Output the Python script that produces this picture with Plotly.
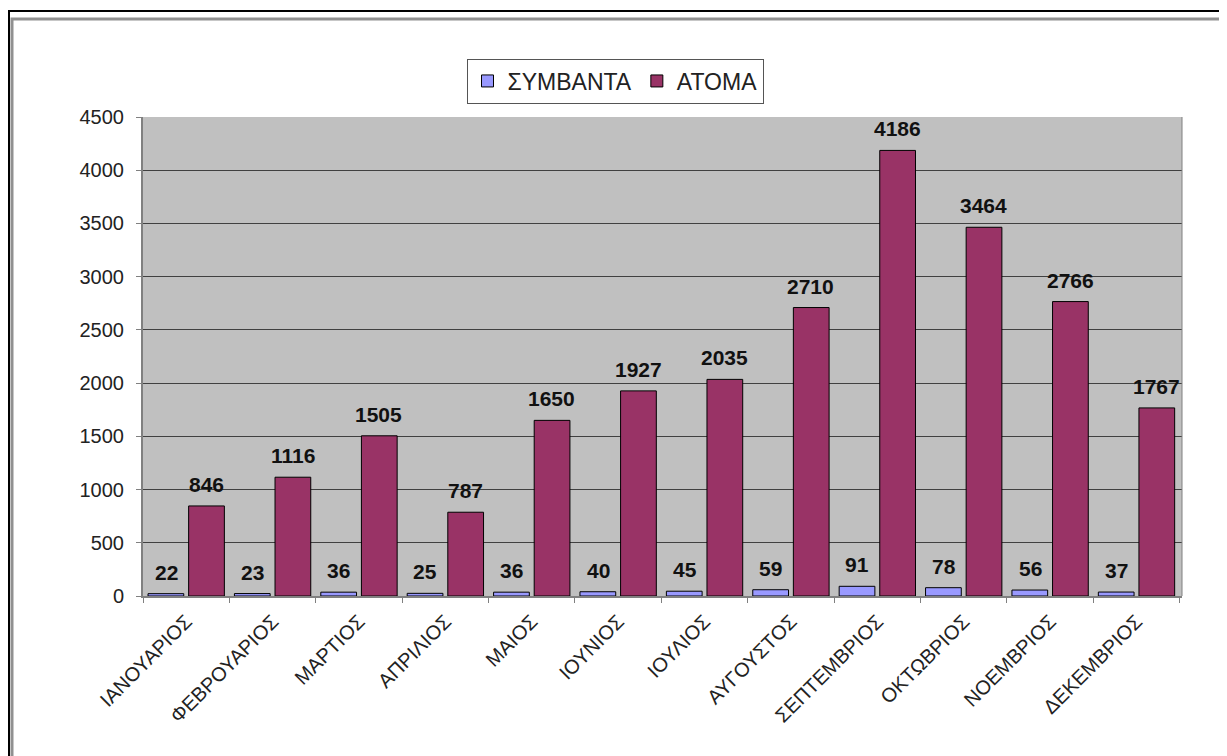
import plotly.graph_objects as go

months = ["ΙΑΝΟΥΑΡΙΟΣ", "ΦΕΒΡΟΥΑΡΙΟΣ", "ΜΑΡΤΙΟΣ", "ΑΠΡΙΛΙΟΣ", "ΜΑΙΟΣ", "ΙΟΥΝΙΟΣ",
          "ΙΟΥΛΙΟΣ", "ΑΥΓΟΥΣΤΟΣ", "ΣΕΠΤΕΜΒΡΙΟΣ", "ΟΚΤΩΒΡΙΟΣ", "ΝΟΕΜΒΡΙΟΣ", "ΔΕΚΕΜΒΡΙΟΣ"]
symvanta = [22, 23, 36, 25, 36, 40, 45, 59, 91, 78, 56, 37]
atoma = [846, 1116, 1505, 787, 1650, 1927, 2035, 2710, 4186, 3464, 2766, 1767]
y_ticks = [0, 500, 1000, 1500, 2000, 2500, 3000, 3500, 4000, 4500]

OFF = 8  # page body margin
W, H = 1219, 748
# target plot area in screen pixels: x 143..1182, y 117..596
L = 143 - OFF
T = 117 - OFF
R = W - (1182 - OFF)
B = H - (596 - OFF)
pw, ph = W - L - R, H - T - B

def px(x):
    return (x - OFF - L) / pw

def py(y):
    return (H - B - (y - OFF)) / ph

fig = go.Figure()
fig.add_trace(go.Bar(name="ΣΥΜΒΑΝΤΑ", x=months, y=symvanta,
                     marker=dict(color="#9999ff", line=dict(color="black", width=1))))
fig.add_trace(go.Bar(name="ΑΤΟΜΑ", x=months, y=atoma,
                     marker=dict(color="#993366", line=dict(color="black", width=1))))

annotations = []
for m, v in zip(months, symvanta):
    annotations.append(dict(x=m, y=v, text=f"<b>{v}</b>", showarrow=False, xshift=-20,
                            yshift=8, yanchor="bottom", font=dict(size=21, color="#111111")))
for m, v in zip(months, atoma):
    annotations.append(dict(x=m, y=v, text=f"<b>{v}</b>", showarrow=False, xshift=20,
                            yshift=8, yanchor="bottom", font=dict(size=21, color="#111111")))

shapes = [
    dict(type="rect", xref="paper", yref="paper", x0=px(9), x1=px(1260), y0=py(11), y1=py(790),
         line=dict(color="black", width=2), fillcolor="rgba(0,0,0,0)", layer="below"),
    dict(type="rect", xref="paper", yref="paper", x0=px(12), x1=px(1260), y0=py(19), y1=py(790),
         line=dict(color="#909090", width=3), fillcolor="rgba(0,0,0,0)", layer="below"),
    dict(type="line", xref="paper", yref="paper", x0=1, x1=1, y0=0, y1=1,
         line=dict(color="#808080", width=1)),
]

fig.update_layout(
    width=W, height=H,
    margin=dict(l=L, r=R, t=T, b=B, autoexpand=False),
    paper_bgcolor="white", plot_bgcolor="#c0c0c0",
    barmode="group", bargap=0.06, bargroupgap=0.12,
    font=dict(family="Liberation Sans, Arial, sans-serif", color="black"),
    showlegend=True,
    legend=dict(orientation="h", x=px(615), xanchor="center", y=py(81), yanchor="middle",
                bordercolor="#555555", borderwidth=1, bgcolor="white",
                font=dict(size=23, color="#222222"), traceorder="normal", itemwidth=30),
    annotations=annotations,
    shapes=shapes,
)
fig.update_yaxes(range=[0, 4500], tickvals=y_ticks, showgrid=True, gridcolor="#404040",
                 gridwidth=1, showline=True, linecolor="#808080", linewidth=2,
                 ticks="outside", ticklen=5, tickcolor="#808080", ticklabelstandoff=8,
                 tickfont=dict(size=20, color="#222222"), zeroline=False, automargin=False)
fig.update_xaxes(tickangle=-45, tickfont=dict(size=20, color="#222222"), showline=True,
                 linecolor="#808080", linewidth=2, ticks="outside", tickson="boundaries",
                 ticklen=5, tickcolor="#808080", ticklabelstandoff=4, automargin=False)

fig.write_html("out.html")
